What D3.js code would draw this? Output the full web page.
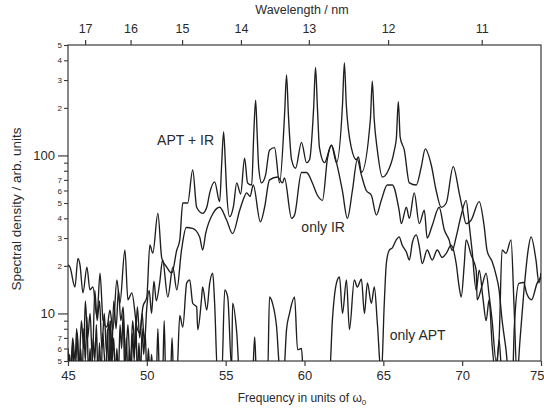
<!DOCTYPE html>
<html><head><meta charset="utf-8">
<script src="https://cdn.jsdelivr.net/npm/d3@7"></script>
<style>
body{margin:0;background:#fff;}
svg text{font-family:"Liberation Sans",Arial,Helvetica,sans-serif;fill:#2a2a2a;}
</style></head><body>
<svg id="c" width="544" height="410"></svg>
<script>
// ---- axis ticks ----
const freqTicks = [45, 50, 55, 60, 65, 70, 75];
const wavelengthTicks = [17, 16, 15, 14, 13, 12, 11];
const lambda0 = 784; // nm, fundamental wavelength (omega_0)
const yMajorTicks = [10, 100];
const yMinorLabeled = [5, 6, 7, 20, 30, 40, 50, 60, 70, 200, 300, 400, 500];
const yMinorUnlabeled = [8, 9, 80, 90];

// ---- series: APT + IR ----
const aptIrFreq = [45.00,45.13,45.44,45.63,45.76,45.95,46.20,46.39,46.58,46.84,47.03,47.22,47.47,47.66,47.85,48.10,48.29,48.61,48.80,49.05,49.37,49.56,49.75,50.00,50.19,50.38,50.70,50.95,51.27,51.58,51.90,52.09,52.28,52.59,52.91,53.16,53.54,53.80,53.99,54.30,54.62,54.75,54.87,54.98,55.06,55.25,55.50,55.70,55.95,56.20,56.39,56.65,56.78,56.90,57.00,57.09,57.28,57.53,57.78,58.10,58.42,58.74,58.86,58.98,59.18,59.43,59.81,60.13,60.32,60.58,60.70,60.82,60.95,61.27,61.71,62.03,62.41,62.53,62.65,62.97,63.29,63.42,63.61,64.18,64.30,64.42,64.62,64.94,65.25,65.70,65.83,65.95,66.07,66.33,66.65,67.09,67.41,67.66,68.04,68.35,68.67,68.99,69.43,69.81,70.00,70.25,70.57,71.08,71.39,71.58,71.90,72.15,72.34,72.53,72.78,72.97,73.20,73.30,73.60,73.90,74.10,74.40,74.75,75.00];
const aptIrVal  = [20.3,19.6,14.7,22.3,20.3,13.5,19.6,14.1,14.7,9.5,18.0,9.1,8.2,10.5,7.9,16.3,11.6,25.2,12.2,13.5,8.2,7.5,11.0,12.7,27.1,24.1,43,22.3,19.6,18.0,25.2,29.2,50,50,81,47,43,47,58,68,51,90,141,90,60,41,48,67,57,96,67,65,135,224,135,85,67,75,108,112,67,185,323,180,94,83,121,90,94,200,360,200,112,90,116,90,210,385,210,112,94,98,78,170,295,170,108,73,78,108,130,219,130,108,67,65,85,110,87,60,47,50,85,58,47,37,39,51,36,25,21.3,17.5,14.1,9.1,5.9,4,4,7.9,15.5,15.7,13.3,12.2,15.5,17];

// ---- series: only IR ----
const irFreq = [45.00,45.15,45.30,45.45,45.55,45.70,45.85,46.00,46.10,46.25,46.40,46.55,46.70,46.85,47.00,47.15,47.30,47.45,47.60,47.75,47.90,48.05,48.20,48.35,48.50,48.65,48.80,48.95,49.10,49.25,49.40,49.55,49.70,49.85,50.00,50.15,50.30,50.45,50.60,50.82,51.00,51.33,51.65,51.90,52.20,52.50,52.90,53.35,53.54,53.73,54.20,54.62,55.06,55.44,55.89,56.10,56.33,56.55,56.75,57.20,57.47,57.78,58.30,58.60,58.73,59.18,59.37,59.81,60.13,60.50,60.82,61.14,61.46,61.71,62.03,62.40,62.72,63.04,63.35,63.61,63.92,64.24,64.56,64.87,65.25,65.57,66.00,66.14,66.46,66.65,66.96,67.28,67.60,67.78,68.10,68.54,68.86,69.18,69.37,69.62,69.94,70.25,70.44,70.63,70.89,71.08,71.33,71.52,71.71,71.90,72.15,72.34,72.53,75.00];
const irVal  = [6,4,7,5,8,4.5,9,6,12,7,10,5,14,9,12,6,10,5.5,9,4.5,12,8,14,9,11,5,8.5,4.5,9,6,11,7,10,6.5,11,14,10,16,12,15.8,21.8,12.7,19.6,14.1,25.2,35,34.5,30.5,25.2,32,43,47,39,32,45,52,58,55,65,38,47,70,73,67,72,40,42,78,78,67,56,52,96,116,90,60,40,60,94,75,60,56,42,52,65,65,45,37,47,40,58,37,45,30,36,47,34,29,25,30.5,42,52,37,25,14,18.8,12.2,9,12.2,6.3,4,6.8,4,4];

// ---- series: only APT ----
const aptFreq = [45.0,45.1,45.2,45.3,45.4,45.5,45.6,45.7,45.8,45.9,46.0,46.1,46.2,46.3,46.4,46.5,46.6,46.7,46.8,46.9,47.0,47.1,47.2,47.3,47.4,47.5,47.6,47.7,47.8,47.9,48.0,48.1,48.2,48.3,48.4,48.5,48.6,48.7,48.8,48.9,49.0,49.1,49.2,49.3,49.4,49.5,49.6,49.7,49.8,49.9,50.0,50.1,50.2,50.3,50.4,50.6,50.7,50.8,51.0,51.1,51.2,51.5,51.6,51.7,51.9,52.09,52.28,52.53,52.72,52.91,53.16,53.23,53.48,53.54,53.80,53.99,54.18,54.30,54.49,54.75,54.94,55.13,55.38,55.44,55.70,55.89,56.70,56.84,56.96,57.66,57.78,57.97,58.23,58.42,58.67,58.86,59.05,59.37,59.56,59.81,59.94,61.58,61.77,62.03,62.22,62.41,62.66,62.85,63.16,63.35,63.61,63.80,63.99,64.24,64.43,64.62,64.87,65.06,65.19,65.38,65.57,65.82,66.00,66.20,66.46,66.65,66.84,67.09,67.28,67.47,67.78,68.10,68.42,68.73,68.99,69.30,69.62,69.81,69.94,70.13,70.25,70.57,70.89,70.95,71.27,71.52,71.71,71.90,72.15,72.34,72.53,72.78,73.10,73.29,73.48,73.67,73.92,74.18,74.37,74.68,74.87,75.00];
const aptVal  = [4,5.5,4,6.5,4,5,7.5,4,6,4,8,5,9.5,4,6,4,7,5,8.5,4,6.5,4,7.5,5.5,4,8,4,9,5,7,4,6,4,8.5,6,10,4,7,4,6,4,7.5,5,9,4,6.5,4,8,5.5,7.5,4,6,4,5.5,4,4,8,4,4,9,4,4,7,4,4,9.7,8.2,15.6,16.3,11.6,11,7.9,12.7,14.7,10.5,15.6,18,11.6,4,4,14.1,12.7,4.5,11.6,7.6,4,4,7.1,4,4,12.7,11.6,8.2,4.5,4,7.9,10,12.7,5.9,6,4,4,9.1,15.6,17,10,16.3,7.9,16.3,14.7,16.5,10,15.6,11.6,14.7,8.7,4,11.6,20.7,25.2,26,29.2,30.5,27,24.5,21.8,28,31.4,26.5,20.7,25.2,21.8,25.2,22.6,24,27,20.7,14.7,12.7,20.3,29.2,23.4,18.8,12.2,15.1,18,13,9,5,6.8,25.2,24,29.2,11.2,4,6.8,14,25,30.5,21.8,15.6,18];

// ---- annotations ----
const annotations = [
  {text: "APT + IR", f: 50.65, v: 116},
  {text: "only IR",  f: 59.8,  v: 33},
  {text: "only APT", f: 65.4,  v: 6.8}
];

const W = 544, H = 410;
const m = {left: 68, right: 3, top: 45, bottom: 49};
const svg = d3.select("#c");
const x = d3.scaleLinear().domain([45, 75]).range([m.left, W - m.right]);
const y = d3.scaleLog().domain([5, 500]).range([H - m.bottom, m.top]);
const axisColor = "#3a3a3a";

svg.append("defs").append("clipPath").attr("id", "clip")
  .append("rect").attr("x", m.left).attr("y", m.top)
  .attr("width", x(75) - m.left).attr("height", y(5) - m.top);

// frame
svg.append("rect").attr("x", m.left).attr("y", m.top)
  .attr("width", x(75) - m.left).attr("height", y(5) - m.top)
  .attr("fill", "none").attr("stroke", axisColor).attr("stroke-width", 1.2);

// bottom axis
const xAxis = svg.append("g").attr("transform", `translate(0,${y(5)})`)
  .call(d3.axisBottom(x).tickValues(freqTicks).tickSize(5).tickSizeOuter(0).tickPadding(5).tickFormat(d3.format("d")));
xAxis.select(".domain").remove();
xAxis.selectAll("line").attr("stroke", axisColor).attr("stroke-width", 1.2);
xAxis.selectAll("text").style("font-size", "13px").attr("fill", "#2a2a2a");
xAxis.selectAll("text").filter(d => d === 75).attr("text-anchor", "end").attr("dx", 3);

// top axis (wavelength)
const topG = svg.append("g");
const wt = topG.selectAll("g").data(wavelengthTicks).join("g")
  .attr("transform", d => `translate(${x(lambda0 / d)},${y(500)})`);
wt.append("line").attr("y1", 0).attr("y2", -5).attr("stroke", axisColor).attr("stroke-width", 1.2);
wt.append("text").attr("y", -12).attr("text-anchor", "middle").style("font-size", "12.5px").text(d => d);

// left axis major
const yMaj = svg.append("g").attr("transform", `translate(${m.left},0)`)
  .call(d3.axisLeft(y).tickValues(yMajorTicks).tickSize(10).tickSizeOuter(0).tickPadding(3).tickFormat(d3.format("d")));
yMaj.select(".domain").remove();
yMaj.selectAll("line").attr("stroke", axisColor).attr("stroke-width", 1.2);
yMaj.selectAll("text").style("font-size", "13px");

// left axis minor labelled
const yMin = svg.append("g").attr("transform", `translate(${m.left},0)`)
  .call(d3.axisLeft(y).tickValues(yMinorLabeled).tickSize(4).tickSizeOuter(0).tickPadding(2).tickFormat(d => String(d).charAt(0)));
yMin.select(".domain").remove();
yMin.selectAll("line").attr("stroke", axisColor).attr("stroke-width", 1.1);
yMin.selectAll("text").style("font-size", "8px");

const yMin2 = svg.append("g").attr("transform", `translate(${m.left},0)`)
  .call(d3.axisLeft(y).tickValues(yMinorUnlabeled).tickSize(4).tickSizeOuter(0).tickFormat(""));
yMin2.select(".domain").remove();
yMin2.selectAll("line").attr("stroke", axisColor).attr("stroke-width", 1.1);

// axis titles
svg.append("text").attr("x", 302).attr("y", 14).attr("text-anchor", "middle")
  .style("font-size", "12.5px").text("Wavelength / nm");
const xt = svg.append("text").attr("x", 302).attr("y", 402).attr("text-anchor", "middle").style("font-size", "12px");
xt.append("tspan").text("Frequency in units of ω");
xt.append("tspan").attr("dy", 3).style("font-size", "8px").text("0");
svg.append("text").attr("transform", `translate(21,${(m.top + y(5)) / 2 + 6}) rotate(-90)`)
  .attr("text-anchor", "middle").style("font-size", "13.5px").text("Spectral density / arb. units");

// curves
const line = d3.line().x(d => x(d[0])).y(d => y(d[1])).curve(d3.curveMonotoneX);
const series = [
  d3.zip(aptIrFreq, aptIrVal),
  d3.zip(irFreq, irVal),
  d3.zip(aptFreq, aptVal)
];
svg.append("g").attr("clip-path", "url(#clip)")
  .selectAll("path").data(series).join("path")
  .attr("d", line).attr("fill", "none")
  .attr("stroke", "#1e1e1e").attr("stroke-width", 1.35).attr("stroke-linejoin", "round");

// annotations
svg.selectAll("text.ann").data(annotations).join("text").attr("class", "ann")
  .attr("x", d => x(d.f)).attr("y", d => y(d.v))
  .style("font-size", "14px").text(d => d.text);
</script>
</body></html>
